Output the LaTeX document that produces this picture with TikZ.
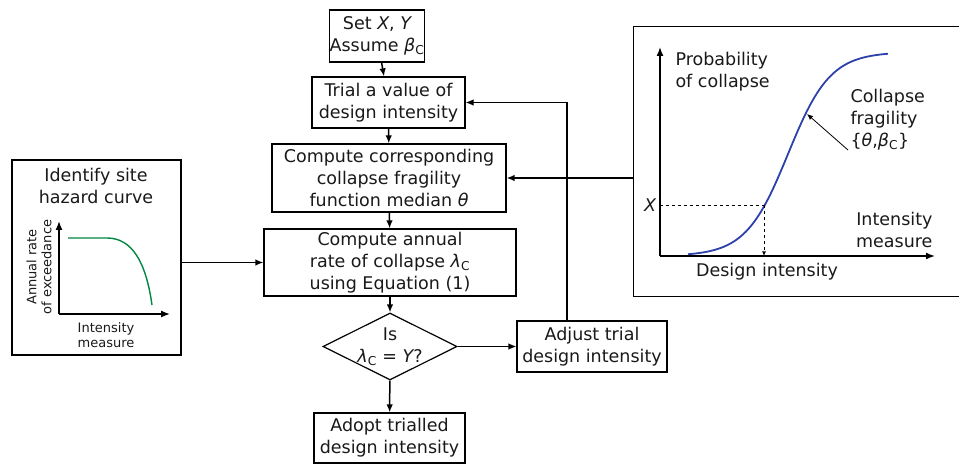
\documentclass[tikz,border=0pt]{standalone}
\usepackage{fontspec}
\setmainfont{DejaVu Sans}
\usetikzlibrary{shapes.geometric,arrows.meta}
\definecolor{hazardgreen}{RGB}{0,135,65}
\definecolor{fragblue}{RGB}{45,65,170}
\newcommand\lamC{{\itshape λ}\textsubscript{C}}
\newcommand\betC{{\itshape β}\textsubscript{C}}

\begin{document}
\begin{tikzpicture}[x=1pt,y=-1pt,
  every node/.style={font=\fontsize{17.5}{22}\selectfont, text=black!90},
  flowbox/.style={draw, line width=1.2pt, align=center, inner sep=0pt},
  decision/.style={draw, diamond, line width=1.2pt, inner sep=0pt},
  panel/.style={line width=1.2pt, inner sep=0pt},
  flow/.style={-{Latex[length=8pt,width=6.5pt]}, line width=1.5pt},
  axis/.style={-{Latex[length=9pt,width=7pt]}, line width=1.5pt},
  smalltext/.style={font=\fontsize{13}{15}\selectfont, align=center}]
  \useasboundingbox (0,0) rectangle (959,465);
  % flow chart
  \node[flowbox, minimum width=90pt, minimum height=52pt] (set) at (377,36)
        {Set {\itshape X}, {\itshape Y}\\Assume \betC};
  \node[flowbox, minimum width=153pt, minimum height=51pt] (trial) at (388.5,102.5)
        {Trial a value of\\design intensity};
  \node[flowbox, minimum width=234pt, minimum height=68pt] (fragility) at (389,178)
        {Compute corresponding\\collapse fragility\\function median {\itshape θ}};
  \node[flowbox, minimum width=252pt, minimum height=67pt] (rate) at (390,262.5)
        {Compute annual\\rate of collapse \lamC\\using Equation (1)};
  \node[decision, minimum width=134pt, minimum height=67pt,
        label={[align=center]center:{Is\\\lamC{} = {\itshape Y}?}}] (check) at (390,346.5) {};
  \node[flowbox, minimum width=150pt, minimum height=51pt] (adjust) at (592,346.5)
        {Adjust trial\\design intensity};
  \node[flowbox, minimum width=151pt, minimum height=50pt] (adopt) at (389.5,438)
        {Adopt trialled\\design intensity};

  \draw[flow] (set) -- (trial);
  \draw[flow] (trial) -- (fragility);
  \draw[flow] (fragility) -- (rate);
  \draw[flow] (rate) -- (check);
  \draw[flow] (check) -- (adopt);
  \draw[flow, line width=1.2pt] (check) -- (adjust);
  \draw[flow, line width=1.2pt] ([xshift=-25pt]adjust.north) |- (trial.east);

  % hazard curve panel
  \node[panel, draw, minimum width=169pt, minimum height=195pt] (hazard) at (96.5,257.5) {};
  \node (hazardtitle) at (96,186) [align=center] {Identify site\\hazard curve};
  \coordinate (horig) at (59,314);
  \draw[axis, line width=1.3pt] (horig) -- (59,221);
  \draw[axis, line width=1.3pt] (horig) -- (170,314);
  \draw[hazardgreen, line width=1.4pt] (68,238) -- (107,238)
        .. controls (132,238) and (146,262) .. (152,305);
  \node[smalltext, rotate=90] (hazardy) at (39,267) {Annual rate\\of exceedance};
  \node[smalltext] (hazardx) at (106,335) {Intensity\\measure};
  \draw[flow] (rate.west -| hazard.east) -- (rate.west);

  % fragility panel
  \node[panel, minimum width=330pt, minimum height=269pt] (fpanel) at (799,161.5) {};
  \draw[line width=1.2pt] (fpanel.north east) -| (fpanel.south west) -- (fpanel.south east);
  \coordinate (forig) at (660,256);
  \draw[axis] (forig) -- (660,47);
  \draw[axis] (forig) -- (935,256);
  \draw[fragblue, line width=1.8pt] plot[domain=688:888, samples=80]
        (\x, {256-204/(1+exp(-1.702*(\x-788)/35.9))});
  \coordinate (xpt) at (764,205);
  \draw[dashed, line width=0.9pt] (forig |- xpt) -- (xpt);
  \draw[dashed, line width=0.9pt, -{Latex[length=4.5pt,width=4pt]}] (xpt) -- (xpt |- forig);
  \node (xmark) at (650,205) {\itshape X};
  \node[align=left, anchor=west] (problab) at (672,72) {Probability\\of collapse};
  \node[align=right, anchor=east] (imlab) at (936,230) {Intensity\\measure};
  \node (designlab) at (767,272) {Design intensity};
  \node[align=left, anchor=west] (fraglab) at (847,120) {Collapse\\fragility\\\{{\itshape θ},\betC\}};
  \draw[-{Latex[length=6pt,width=5pt]}, line width=0.8pt] (848,150) -- (807,114);
  \draw[flow] (fragility.east -| fpanel.west) -- (fragility.east);
\end{tikzpicture}
\end{document}
